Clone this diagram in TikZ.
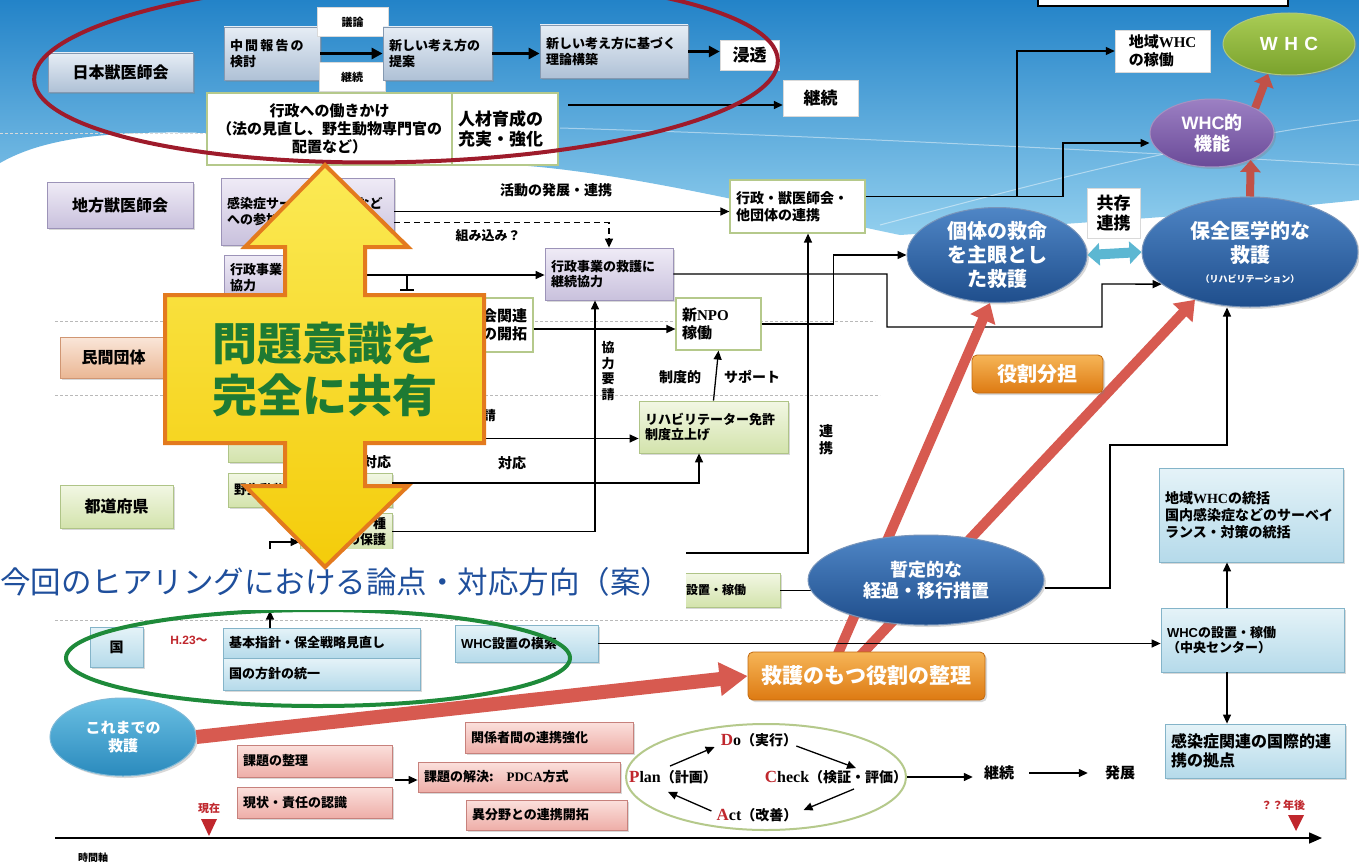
\documentclass[tikz,border=0pt]{standalone}
\usepackage{fontspec}
\setmainfont{Noto Sans CJK JP}
\newfontfamily\lser{Liberation Serif}
\newfontfamily\lsans{Liberation Sans}
\usetikzlibrary{arrows.meta,shapes.geometric,shadows}
\newcommand\jf[1]{\fontsize{#1pt}{\dimexpr #1pt*6/5\relax}\selectfont}
\newcommand\bx[7]{%
  \pgfmathsetmacro\bxw{#5-#3-12}%
  \pgfmathsetmacro\bxh{#6-#4}%
  \node[#2, text width=\bxw pt, minimum height=\bxh pt, inner xsep=6pt, inner ysep=2pt] (#1) at ({(#3+#5)/2},{(#4+#6)/2}) {#7};}
\definecolor{bgT}{HTML}{2383C8}
\definecolor{bgL}{HTML}{92CFEE}
\definecolor{bbT}{HTML}{E6EDF5}
\definecolor{bbL}{HTML}{AFC1D6}
\definecolor{bbD}{HTML}{8599B1}
\definecolor{lvT}{HTML}{EFEBF6}
\definecolor{lvL}{HTML}{C9C1DD}
\definecolor{lvD}{HTML}{9C93B8}
\definecolor{lgT}{HTML}{F2F7E4}
\definecolor{lgL}{HTML}{D3E3AC}
\definecolor{lgD}{HTML}{AFC487}
\definecolor{wgD}{HTML}{B5C98B}
\definecolor{peT}{HTML}{FAE6D9}
\definecolor{peL}{HTML}{EAB794}
\definecolor{peD}{HTML}{D09673}
\definecolor{lbT}{HTML}{E5F3F8}
\definecolor{lbL}{HTML}{B5DAEA}
\definecolor{lbD}{HTML}{84B4C9}
\definecolor{pkT}{HTML}{FBE0DC}
\definecolor{pkL}{HTML}{EEAEA8}
\definecolor{pkD}{HTML}{C7817C}
\definecolor{orT}{HTML}{F6B557}
\definecolor{orL}{HTML}{DD7A12}
\definecolor{orD}{HTML}{C26A10}
\definecolor{dbT}{HTML}{4F86C6}
\definecolor{dbL}{HTML}{1F4E8C}
\definecolor{tlT}{HTML}{6BC0E3}
\definecolor{tlL}{HTML}{2A8ABD}
\definecolor{puT}{HTML}{9C80C3}
\definecolor{puL}{HTML}{6A4A98}
\definecolor{grT}{HTML}{A9CC55}
\definecolor{grL}{HTML}{7AA22C}
\definecolor{redE}{HTML}{9E1B2B}
\definecolor{gE}{HTML}{1E8A3A}
\definecolor{rA}{HTML}{D75A50}
\definecolor{cyA}{HTML}{5CB7D2}
\definecolor{yT}{HTML}{FBEA55}
\definecolor{yL}{HTML}{F4CC0A}
\definecolor{yD}{HTML}{E37A1E}
\definecolor{ttl}{HTML}{1F4F9C}
\definecolor{tgr}{HTML}{1E7A33}
\definecolor{pred}{HTML}{C0272D}
\tikzset{
 arr/.style={-{Triangle[length=9pt,width=8pt]}, line width=1.3pt},
 tarr/.style={-{Triangle[length=11pt,width=11pt]}, line width=2.8pt},
 sepl/.style={draw=gray!55, line width=0.7pt, dash pattern=on 3pt off 2pt},
 shad/.style={drop shadow={opacity=0.3,shadow xshift=2pt,shadow yshift=-2pt}},
 bbox/.style={rectangle, draw=bbD, line width=0.8pt, top color=bbT, bottom color=bbL, align=left, shad},
 lvbox/.style={rectangle, draw=lvD, line width=0.8pt, top color=lvT, bottom color=lvL, align=left, shad},
 lgbox/.style={rectangle, draw=lgD, line width=0.8pt, top color=lgT, bottom color=lgL, align=left, shad},
 wgbox/.style={rectangle, draw=wgD, line width=1.2pt, fill=white, align=left},
 whbox/.style={rectangle, draw=gray!30, line width=0.5pt, fill=white, inner sep=1pt},
 pebox/.style={rectangle, draw=peD, line width=0.8pt, top color=peT, bottom color=peL, align=left, shad},
 lbbox/.style={rectangle, draw=lbD, line width=0.8pt, top color=lbT, bottom color=lbL, align=left, shad},
 pkbox/.style={rectangle, draw=pkD, line width=0.8pt, top color=pkT, bottom color=pkL, align=left, shad},
 orbox/.style={rectangle, rounded corners=5pt, draw=orD, line width=0.8pt, top color=orT, bottom color=orL, text=white, align=center, shad},
 dbell/.style={ellipse, draw=dbL!60!white, line width=1pt, top color=dbT, bottom color=dbL, text=white, align=center, inner sep=0pt, shad},
 tlell/.style={ellipse, draw=tlL!60!white, line width=1pt, top color=tlT, bottom color=tlL, text=white, align=center, inner sep=0pt, shad},
 puell/.style={ellipse, draw=puL!60!white, line width=1pt, top color=puT, bottom color=puL, text=white, align=center, inner sep=0pt, shad},
 grell/.style={ellipse, draw=grL!60!white, line width=1pt, top color=grT, bottom color=grL, text=white, align=center, inner sep=0pt, shad},
 lbl/.style={inner sep=1pt, font=\bfseries\jf{14}},
 redarr/.style={line width=10pt, draw=rA, -{Triangle[length=18pt,width=26pt]}},
 smred/.style={line width=8pt, draw=rA!90!black, -{Triangle[length=12pt,width=20pt]}},
 bigred/.style={line width=14pt, draw=rA, -{Triangle[length=28pt,width=32pt]}},
}
\begin{document}
\begin{tikzpicture}[x=1pt,y=-1pt]
\useasboundingbox (0,0) rectangle (1359,867);
\fill[white] (0,0) rectangle (1359,867);
\shade[top color=bgT,bottom color=bgL] (0,0) -- (1359,0) -- (1359,200) .. controls (1250,212) and (1050,225) .. (900,235) .. controls (780,210) and (650,178) .. (540,167) .. controls (400,155) and (300,140) .. (207,133) .. controls (100,130) and (40,140) .. (0,163) -- cycle;
\draw[white, opacity=0.45, line width=1pt] (560,128) .. controls (800,135) and (1100,150) .. (1359,165);
\draw[white, opacity=0.45, line width=1pt] (880,225) .. controls (1050,180) and (1200,140) .. (1359,120);
\draw[line width=1.2pt, fill=white] (1038,-5) rectangle (1288,6);
% separators
\draw[sepl] (55,321) -- (875,321);
\draw[sepl] (55,395) -- (880,395);
\draw[sepl] (55,620) -- (900,620);
\draw[sepl,draw=white!70!gray] (0,133) -- (207,133);

% ---------- top row ----------
\bx{nichi}{bbox,align=center,font=\bfseries\jf{16}}{48}{53}{193}{92}{日本獣医師会}
\bx{chukan}{bbox,font=\bfseries\jf{13}}{224}{27}{320}{80}{中\,間\,報\,告\,の\\検討}
\node[whbox, minimum width=71pt, minimum height=29pt, font=\bfseries\jf{11}] (giron) at (352.5,22) {議論};
\node[whbox, minimum width=66pt, minimum height=29pt, font=\bfseries\jf{11}] (keiz1) at (352,77) {継続};
\bx{atara}{bbox,font=\bfseries\jf{13}}{383}{27}{492}{80}{新しい考え方の\\提案}
\bx{riron}{bbox,font=\bfseries\jf{13}}{540}{25}{688}{78}{新しい考え方に基づく\\理論構築}
\node[whbox, minimum width=59pt, minimum height=30pt, font=\bfseries\jf{17}] (shinto) at (749.5,55) {浸透};
\node[whbox, minimum width=75pt, minimum height=36pt, font=\bfseries\jf{17}] (keiz2) at (820.5,98) {継続};
\bx{gyosei}{wgbox,align=center,font=\bfseries\jf{15}}{207}{93}{452}{165}{行政への働きかけ\\（法の見直し、野生動物専門官の\\配置など）}
\bx{jinzai}{wgbox,font=\bfseries\jf{17}}{452}{93}{558}{165}{人材育成の\\充実・強化}
\draw[tarr] (chukan.east) -- (atara.west);
\draw[tarr] (atara.east) -- (atara.east -| riron.west);
\draw[tarr] (riron.east) -- (riron.east -| shinto.west);
\coordinate (j1) at (568,105);
\draw[arr,line width=1.6pt] (j1) -- (j1 -| keiz2.west);

% ---------- middle ----------
\bx{chiho}{lvbox,align=center,font=\bfseries\jf{16}}{47}{182}{193}{228}{地方獣医師会}
\bx{kansen}{lvbox,font=\bfseries\jf{13}}{221}{178}{394}{245}{感染症サーベイランスなど\\への参加}
\bx{gyoji}{lvbox,font=\bfseries\jf{13}}{224}{255}{330}{300}{行政事業への\\協力}
\bx{kyuugo}{lvbox,font=\bfseries\jf{13}}{545}{248}{673}{300}{行政事業の救護に\\継続協力}
\bx{renkei}{wgbox,font=\bfseries\jf{14}}{730}{180}{865}{233}{行政・獣医師会・\\他団体の連携}
\bx{gakkai}{wgbox,align=right,font=\bfseries\jf{15}}{420}{298}{533}{352}{学会関連\\との開拓}
\bx{npo}{wgbox,font=\bfseries\jf{15}}{676}{298}{761}{350}{新{\lser NPO}\\稼働}
\bx{rehab}{lgbox,font=\bfseries\jf{13}}{639}{401}{788}{453}{リハビリテーター免許\\制度立上げ}
\bx{minkan}{pebox,align=center,font=\bfseries\jf{16}}{60}{337}{167}{378}{民間団体}
\bx{hidA}{lgbox}{228}{415}{340}{462}{}
\bx{yasei}{lgbox,font=\bfseries\jf{13}}{228}{473}{392}{507}{野生動物救護の連携}
\bx{shu}{lgbox,align=right,font=\bfseries\jf{13}}{300}{513}{392}{550}{希少種\\の保護}
\bx{todo}{lgbox,align=center,font=\bfseries\jf{16}}{60}{485}{173}{528}{都道府県}
\bx{settchi}{lgbox}{600}{573}{780}{607}{}
\node[font=\bfseries\jf{12}, inner sep=0pt] (settchiT) at (716,590) {設置・稼働};

\node[lbl] (lKatsu) at (556,190) {活動の発展・連携};
\node[lbl,font=\bfseries\jf{13}] (lKumi) at (488,236) {組み込み？};
\node[lbl,font=\bfseries\jf{13},align=center] (lKyo) at (608,371) {協\\力\\要\\請};
\node[lbl,font=\bfseries\jf{14}] (lSei) at (680,377) {制度的};
\node[lbl,font=\bfseries\jf{14}] (lSup) at (752,377) {サポート};
\node[lbl,font=\bfseries\jf{14}] (lTai1) at (512,463) {対応};
\node[lbl,font=\bfseries\jf{14}] (lTai2) at (377,462) {対応};
\node[lbl,font=\bfseries\jf{14},align=center] (lRen) at (826,440) {連\\携};
\node[lbl,font=\bfseries\jf{13},anchor=east] (lYo) at (497,416) {協力要請};

\draw[arr] (kansen.east) -- (kansen.east -| renkei.west);
\draw[arr, dashed, dash pattern=on 6pt off 4pt] ([yshift=-11pt]kansen.east) -| (kyuugo.north);
\draw[arr] ([yshift=2.5pt]gyoji.east) -- ([yshift=2.5pt]gyoji.east -| kyuugo.west);
\draw[line width=1.3pt] (407,275) -- (407,290) (400,290) -- (414,290);
\draw[arr] ([yshift=-4pt]gakkai.east) -- ([yshift=-4pt]gakkai.east -| npo.west);
\draw[arr] (rehab.north) -- (npo.south);
\draw[arr] (hidA.east) -- (hidA.east -| rehab.west);
\draw[arr] ([yshift=7pt]yasei.east) -| ([xshift=-14.5pt]rehab.south);
\draw[arr] ([xshift=55pt]yasei.north) -- ([xshift=-1pt]hidA.south);
\draw[arr] (shu.east) -| ([xshift=-14pt]kyuugo.south);
\coordinate (c553) at (685,553);
\draw[arr] (c553) -| ([xshift=10.5pt]renkei.south);
\draw (settchi.east) -- ++(40,0);

% ---------- right ellipses ----------
\node[dbell, minimum width=180pt, minimum height=90pt, font=\bfseries\jf{20}] (kotai) at (997,255) {個体の救命\\を主眼とし\\た救護};
\node[dbell, minimum width=216pt, minimum height=110pt, font=\bfseries\jf{20}] (hozen) at (1250,252) {保全医学的な\\救護\\[-4pt]{\jf{9}（リハビリテーション）}};
\node[whbox, minimum width=53pt, minimum height=50pt, font=\bfseries\jf{17}, align=center] (kyozon) at (1113.5,213) {共存\\連携};
\node[puell, minimum width=124pt, minimum height=68pt, font=\bfseries\jf{18}] (whcf) at (1212,133) {{\lsans WHC}的\\機能};
\node[grell, minimum width=132pt, minimum height=62pt, font=\bfseries\jf{19}] (whc) at (1289,44) {\lsans W\,\,H\,\,C};
\node[whbox, minimum width=95pt, minimum height=42pt, font=\bfseries\jf{15}, align=left] (chiiki) at (1162.5,51) {地域{\lser WHC}\\の稼働};
\draw[line width=10pt, draw=cyA, {Triangle[length=12pt,width=22pt]}-{Triangle[length=12pt,width=22pt]}] (kotai.east) -- (hozen.west);
\draw[smred] (hozen.north) -- (whcf.325);
\draw[smred] (whcf.30) -- (whc.235);

\draw[arr] (npo.east) -- ++(72,0) |- (kotai.west);
\draw[arr] (kyuugo.east) -| (887,327) -| (1102,284) -- (hozen.200);
\draw[arr] ([yshift=10pt]renkei.east) -| (1063,143) -- ([yshift=-10pt]whcf.west);
\coordinate (br1) at (1017,196.5);
\draw[arr] (br1) |- (chiiki.west);

% ---------- right boxes ----------
\bx{whcT}{lbbox,font=\bfseries\jf{14}}{1159}{468}{1343}{562}{地域{\lser WHC}の統括\\国内感染症などのサーベイ\\ランス・対策の統括}
\bx{whcC}{lbbox,font=\bfseries\jf{13}}{1161}{608}{1344}{672}{{\lsans WHC}の設置・稼働\\（中央センター）}
\bx{kokusai}{lbbox,font=\bfseries\jf{16}}{1165}{724}{1345}{778}{感染症関連の国際的連\\携の拠点}
\draw[arr] ([xshift=-25.5pt]whcC.north) -- ([xshift=-24pt]whcT.south);
\draw[arr] ([xshift=-25.5pt]whcC.south) -- ([xshift=-28pt]kokusai.north);

% ---------- red arrows, zantei, seiri ----------
\coordinate (ra1) at (837,656);
\coordinate (ra2) at (860,656);
\draw[redarr] (ra1) -- ([xshift=-7pt]kotai.south);
\draw[redarr] (ra2) -- (hozen.221);
\node[dbell, minimum width=236pt, minimum height=90pt, font=\bfseries\jf{18}] (zantei) at (926,580) {暫定的な\\経過・移行措置};
\draw[arr] ([yshift=-8pt]zantei.east) -| (1110,445) -| ([xshift=-23pt]hozen.south);
\node[orbox, minimum width=131pt, minimum height=38pt, font=\bfseries\jf{20}] (yakuw) at (1037.5,374) {役割分担};
\node[orbox, minimum width=237pt, minimum height=48pt, font=\bfseries\jf{21}] (seiri) at (866.5,676) {救護のもつ役割の整理};

% ---------- bottom ----------
\bx{kuni}{lbbox,align=center,font=\bfseries\jf{14}}{90}{627}{143}{667}{国}
\node[font=\bfseries\jf{12}, text=pred] (h23) at (189,640) {{\lsans H.23}〜};
\bx{kihon}{lbbox,font=\bfseries\jf{13}}{223}{628}{420}{658}{基本指針・保全戦略見直し}
\bx{tou}{lbbox,font=\bfseries\jf{13}}{223}{658}{420}{690}{国の方針の統一}
\bx{mosaku}{lbbox,font=\bfseries\jf{13}}{455}{625}{598}{662}{{\lsans WHC}設置の模索}
\draw[arr] (mosaku.east) -- (mosaku.east -| whcC.west);
\draw[arr] ([xshift=-51.5pt]kihon.north) -- ++(0,-17);
\coordinate (cl) at (270,556);
\draw[arr] (cl) |- ([yshift=-10.5pt]shu.west);
\node[draw=gE, line width=4pt, ellipse, minimum width=504pt, minimum height=96pt, inner sep=0pt] (gell) at (318,658) {};
\node[tlell, minimum width=146pt, minimum height=78pt, font=\bfseries\jf{15}] (korema) at (123,737) {これまでの\\救護};
\draw[bigred] (korema.east) -- (seiri.west);
\bx{kadai}{pkbox,font=\bfseries\jf{13}}{237}{745}{392}{777}{課題の整理}
\bx{genjo}{pkbox,font=\bfseries\jf{13}}{237}{787}{392}{818}{現状・責任の認識}
\bx{kaike}{pkbox,font=\bfseries\jf{13}}{418}{762}{620}{792}{課題の解決:\quad{\lser PDCA}方式}
\bx{kankei}{pkbox,font=\bfseries\jf{13}}{465}{722}{633}{753}{関係者間の連携強化}
\bx{ibun}{pkbox,font=\bfseries\jf{13}}{466}{800}{627}{830}{異分野との連携開拓}
\coordinate (k0) at (395,780);
\draw[arr] (k0) -- (k0 -| kaike.west);

\node[ellipse, draw=wgD, line width=2pt, fill=white, minimum width=280pt, minimum height=106pt] (pdca) at (766,777) {};
\node[font=\bfseries\jf{14}, inner sep=1pt] (pP) at (673,777) {{\lser\jf{17}\color{pred}P}{\lser\jf{16}lan}（計画）};
\node[font=\bfseries\jf{14}, inner sep=1pt] (pD) at (759,740) {{\lser\jf{17}\color{pred}D}{\lser\jf{16}o}（実行）};
\node[font=\bfseries\jf{14}, inner sep=1pt] (pC) at (836,777) {{\lser\jf{17}\color{pred}C}{\lser\jf{16}heck}（検証・評価）};
\node[font=\bfseries\jf{14}, inner sep=1pt] (pA) at (757,815) {{\lser\jf{17}\color{pred}A}{\lser\jf{16}ct}（改善）};
\draw[arr] ([xshift=-3pt,yshift=3pt]pP.north) -- ([xshift=-5pt,yshift=-7pt]pD.west);
\draw[arr] ([xshift=-2pt,yshift=-6pt]pD.east) -- ([xshift=20pt,yshift=1pt]pC.north);
\draw[arr] ([xshift=18pt,yshift=-4pt]pC.south) -- ([xshift=5pt,yshift=5pt]pA.east);
\draw[arr] ([xshift=-4pt,yshift=4pt]pA.west) -- ([xshift=-5pt,yshift=-7pt]pP.south);
\node[lbl,font=\bfseries\jf{15}] (keiz3) at (999,773) {継続};
\node[lbl,font=\bfseries\jf{15}] (hatten) at (1120,773) {発展};
\draw[arr] (pdca.east) -- ([xshift=-10pt]pdca.east -| keiz3.west);
\draw[arr, shorten <=14pt, shorten >=16pt] (keiz3.east) -- (hatten.west);

\coordinate (ax0) at (55,838);
\coordinate (ax1) at (1322,838);
\draw[line width=1.6pt, -{Triangle[length=13pt,width=11pt]}] (ax0) -- (ax1);
\node[font=\bfseries\jf{11}, text=pred] (genzai) at (209,808) {現在};
\fill[pred] (201,819) -- (217,819) -- (209,836) -- cycle;
\node[font=\bfseries\jf{11}, text=pred] (nengo) at (1283,805) {？？年後};
\fill[pred] (1288,815) -- (1304,815) -- (1296,831) -- cycle;
\node[font=\bfseries\jf{10}] (jikan) at (93,858) {時間軸};

% ---------- red top ellipse ----------
\node[draw=redE, line width=4pt, ellipse, minimum width=744pt, minimum height=184pt, rotate=1.5, inner sep=0pt] (redell) at (406,70) {};

% ---------- title band, yellow arrow, title ----------
\fill[white] (0,549) rectangle (686,610);
\draw[draw=yD, line width=4pt, top color=yT, bottom color=yL, line join=miter]
 (325,165) -- (408,247) -- (365,247) -- (365,295) -- (484,295) -- (484,443) -- (365,443) -- (365,486) -- (408,486) -- (325,567) -- (245,486) -- (285,486) -- (285,443) -- (165,443) -- (165,295) -- (285,295) -- (285,247) -- (245,247) -- cycle;
\node[font=\bfseries\fontsize{45pt}{52pt}\selectfont, text=tgr, align=center] (ytext) at (325,369) {問題意識を\\完全に共有};
\node[anchor=west, font=\fontsize{30.5pt}{35pt}\selectfont, text=ttl, inner sep=0pt] (title) at (0,582) {今回のヒアリングにおける論点・対応方向（案）};
\end{tikzpicture}
\end{document}
